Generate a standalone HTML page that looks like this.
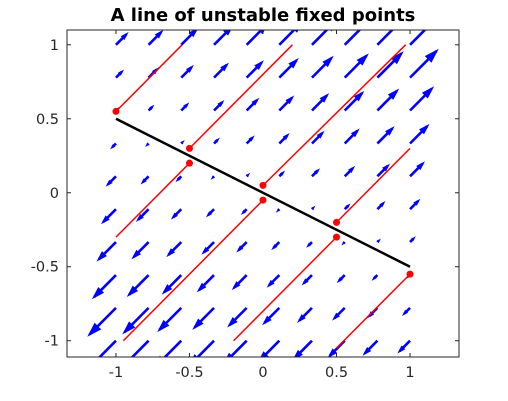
<!DOCTYPE html>
<html><head><meta charset="utf-8"><style>
body{margin:0;background:#fff;}
svg{display:block;font-family:"DejaVu Sans","Liberation Sans",sans-serif;}
</style></head><body>
<svg id="chart" width="508" height="401" viewBox="0 0 508 401">
<defs><clipPath id="plotclip"><rect x="67" y="30" width="392" height="327"/></clipPath></defs>
<rect x="0" y="0" width="508" height="401" fill="#fff"/>
<text x="263" y="21" text-anchor="middle" font-size="18" font-weight="bold" fill="#000">A line of unstable fixed points</text>
<g id="field" clip-path="url(#plotclip)"></g>
<g id="traj"></g>
<g id="axes"></g>
</svg>
<script>
const xTicks=[-1,-0.5,0,0.5,1];
const yTicks=[-1,-0.5,0,0.5,1];
const xTickLabels=["-1","-0.5","0","0.5","1"];
const yTickLabels=["-1","-0.5","0","0.5","1"];
const gridX=[-1,-0.778,-0.556,-0.333,-0.111,0.111,0.333,0.556,0.778,1];
const gridY=[1,0.778,0.556,0.333,0.111,-0.111,-0.333,-0.556,-0.778,-1];
const fixedLineX=[-1,1];
const fixedLineY=[0.5,-0.5];
const trajStartX=[-1,-0.5,-0.5,0,0,0.5,0.5,1];
const trajStartY=[0.55,0.3,0.2,0.05,-0.05,-0.2,-0.3,-0.55];
const trajEndX=[-0.55,0.2,-1,0.97,-0.95,1.0,-0.2,0.5];
const trajEndY=[1.0,1.0,-0.3,1.0,-1.0,0.3,-1.0,-1.05];
const NS="http://www.w3.org/2000/svg";
const L=67,R=459,T=30,B=357;
const xmin=-1.333,xmax=1.333,ymin=-1.11,ymax=1.1;
function sx(v){return L+(v-xmin)/(xmax-xmin)*(R-L);}
function sy(v){return B-(v-ymin)/(ymax-ymin)*(B-T);}
function mk(tag,attrs,parent){const e=document.createElementNS(NS,tag);for(const k in attrs)e.setAttribute(k,attrs[k]);parent.appendChild(e);return e;}
const field=document.getElementById('field');
const k=0.07;
gridX.forEach((gx,i)=>{gridY.forEach((gy,j)=>{
  const m=gx+2*gy;
  const x0=sx(gx),y0=sy(gy),x1=sx(gx+k*m),y1=sy(gy+k*m);
  const g=mk('g',{},field);
  
  
  mk('line',{x1:x0,y1:y0,x2:x1,y2:y1,stroke:'#0000ff','stroke-width':2.6},g);
  const dx=x1-x0,dy=y1-y0,len=Math.hypot(dx,dy);
  if(len>1){const ux=dx/len,uy=dy/len,h=len*0.3;
    const a=0.3;
    const pts=[[x1,y1]];
    [a,-a].forEach(s=>{const c=Math.cos(s),sn=Math.sin(s);
      pts.push([x1-(ux*c-uy*sn)*h,y1-(ux*sn+uy*c)*h]);});
    mk('polygon',{points:pts.map(p=>p.join(',')).join(' '),fill:'#0000ff',stroke:'#0000ff','stroke-width':2},g);}
});});
const traj=document.getElementById('traj');
const fl=mk('line',{x1:sx(fixedLineX[0]),y1:sy(fixedLineY[0]),x2:sx(fixedLineX[1]),y2:sy(fixedLineY[1]),stroke:'#000','stroke-width':2.5},traj);


trajStartX.forEach((x,i)=>{
  const l=mk('line',{x1:sx(x),y1:sy(trajStartY[i]),x2:sx(trajEndX[i]),y2:sy(trajEndY[i]),stroke:'#ff0000','stroke-width':1.5},traj);
  
  
  const c=mk('circle',{cx:sx(x),cy:sy(trajStartY[i]),r:3.5,fill:'#ff0000'},traj);
  
  
});
const axes=document.getElementById('axes');
const box=mk('rect',{x:L,y:T,width:R-L,height:B-T,fill:'none',stroke:'#262626','stroke-width':1},axes);


xTicks.forEach((v,i)=>{const x=sx(v);
  mk('line',{x1:x,y1:B,x2:x,y2:B-4,stroke:'#262626'},axes);
  mk('line',{x1:x,y1:T,x2:x,y2:T+4,stroke:'#262626'},axes);
  const t=mk('text',{x:x,y:B+20,'text-anchor':'middle','font-size':14.5,fill:'#262626'},axes);
  t.textContent=xTickLabels[i];
  
  });
yTicks.forEach((v,i)=>{const y=sy(v);
  mk('line',{x1:L,y1:y,x2:L+4,y2:y,stroke:'#262626'},axes);
  mk('line',{x1:R,y1:y,x2:R-4,y2:y,stroke:'#262626'},axes);
  const t=mk('text',{x:L-8,y:y+5,'text-anchor':'end','font-size':14.5,fill:'#262626'},axes);
  t.textContent=yTickLabels[i];
  
  });
</script>
</body></html>
